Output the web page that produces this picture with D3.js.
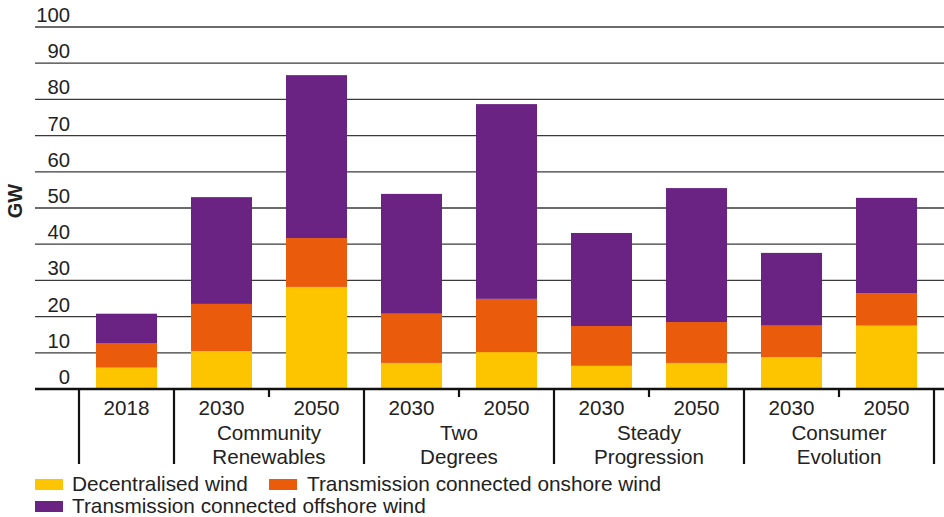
<!DOCTYPE html>
<html><head><meta charset="utf-8">
<script src="https://cdn.jsdelivr.net/npm/d3@7"></script>
<style>body{margin:0;background:#fff}svg{display:block}text{font-family:"Liberation Sans",Arial,sans-serif;fill:#222}</style>
</head><body><svg id="c" width="944" height="517"></svg>
<script>
const years = ["2018","2030","2050","2030","2050","2030","2050","2030","2050"];
const scenarios = [["2018"],["Community","Renewables"],["Two","Degrees"],["Steady","Progression"],["Consumer","Evolution"]];
const decentralised = [5.9,10.5,28.2,7.2,10.2,6.4,7.2,8.8,17.5];
const onshore = [6.8,13.0,13.5,13.6,14.7,11.0,11.3,8.7,9.0];
const offshore = [8.1,29.5,45.0,33.1,53.8,25.7,37.0,20.1,26.3];
const seriesNames = ["Decentralised wind","Transmission connected onshore wind","Transmission connected offshore wind"];
const colors = ["#FDC500","#EA5B0C","#6A2382"];
const yTicks = [0,10,20,30,40,50,60,70,80,90,100];

const svg = d3.select("#c");
const y = d3.scaleLinear().domain([0,100]).range([389,27]);
const idx = d3.range(years.length);
const x = d3.scaleBand().domain(idx).range([79,934]).paddingInner(0.358).paddingOuter(0.179);

// gridlines
svg.append("g").selectAll("line").data(yTicks.filter(d=>d>0)).join("line")
  .attr("x1",35).attr("x2",944).attr("y1",d=>y(d)).attr("y2",d=>y(d))
  .attr("stroke","#3a3a3a").attr("stroke-width",1.3);
svg.append("g").selectAll("text").data(yTicks).join("text")
  .attr("x",70).attr("y",d=>y(d)-5).attr("text-anchor","end")
  .style("font-size","20.3px").text(d=>d);
svg.append("text").attr("transform","translate(22,201) rotate(-90)")
  .attr("text-anchor","middle").style("font-size","20px").style("font-weight","bold").text("GW");

// stacked bars
const rows = idx.map(i=>({i, a:decentralised[i], b:onshore[i], c:offshore[i]}));
const stack = d3.stack().keys(["a","b","c"])(rows);
svg.append("g").selectAll("g").data(stack).join("g").attr("fill",(d,k)=>colors[k])
  .selectAll("rect").data(d=>d).join("rect")
  .attr("x",d=>x(d.data.i)).attr("width",x.bandwidth())
  .attr("y",d=>y(d[1])).attr("height",d=>y(d[0])-y(d[1]));

// x axis
svg.append("line").attr("x1",35).attr("x2",944).attr("y1",389).attr("y2",389)
  .attr("stroke","#111").attr("stroke-width",2.5);
const step = x.step();
const groupStarts = [0,1,3,5,7];
const groupEnds = [0,2,4,6,8];
const sepX = [x(0)+x.bandwidth()/2-step/2].concat(groupEnds.map(e=>x(e)+x.bandwidth()/2+step/2));
svg.append("g").selectAll("line").data(sepX).join("line")
  .attr("x1",d=>d).attr("x2",d=>d).attr("y1",389).attr("y2",464)
  .attr("stroke","#111").attr("stroke-width",2.2);
const midX = [2,4,6,8].map(e=>x(e)+x.bandwidth()/2-step/2);
svg.append("g").selectAll("line").data(midX).join("line")
  .attr("x1",d=>d).attr("x2",d=>d).attr("y1",389).attr("y2",397)
  .attr("stroke","#111").attr("stroke-width",2.2);
svg.append("g").selectAll("text").data(idx).join("text")
  .attr("x",i=>x(i)+x.bandwidth()/2).attr("y",415).attr("text-anchor","middle")
  .style("font-size","20.6px").text(i=>years[i]);
scenarios.forEach((lines,g)=>{
  if(g===0) return;
  const cx = (x(groupStarts[g])+x(groupEnds[g])+x.bandwidth())/2;
  lines.forEach((t,j)=>svg.append("text").attr("x",cx).attr("y",440+j*23.5)
    .attr("text-anchor","middle").style("font-size","20.6px").text(t));
});

// legend
const leg = [{k:0,x:35,y:479,tx:72,ty:491},{k:1,x:269,y:479,tx:307,ty:491},{k:2,x:35,y:501,tx:72,ty:513}];
leg.forEach(l=>{
  svg.append("rect").attr("x",l.x).attr("y",l.y).attr("width",28).attr("height",11).attr("fill",colors[l.k]);
  svg.append("text").attr("x",l.tx).attr("y",l.ty).style("font-size","20.8px").text(seriesNames[l.k]);
});
</script></body></html>
